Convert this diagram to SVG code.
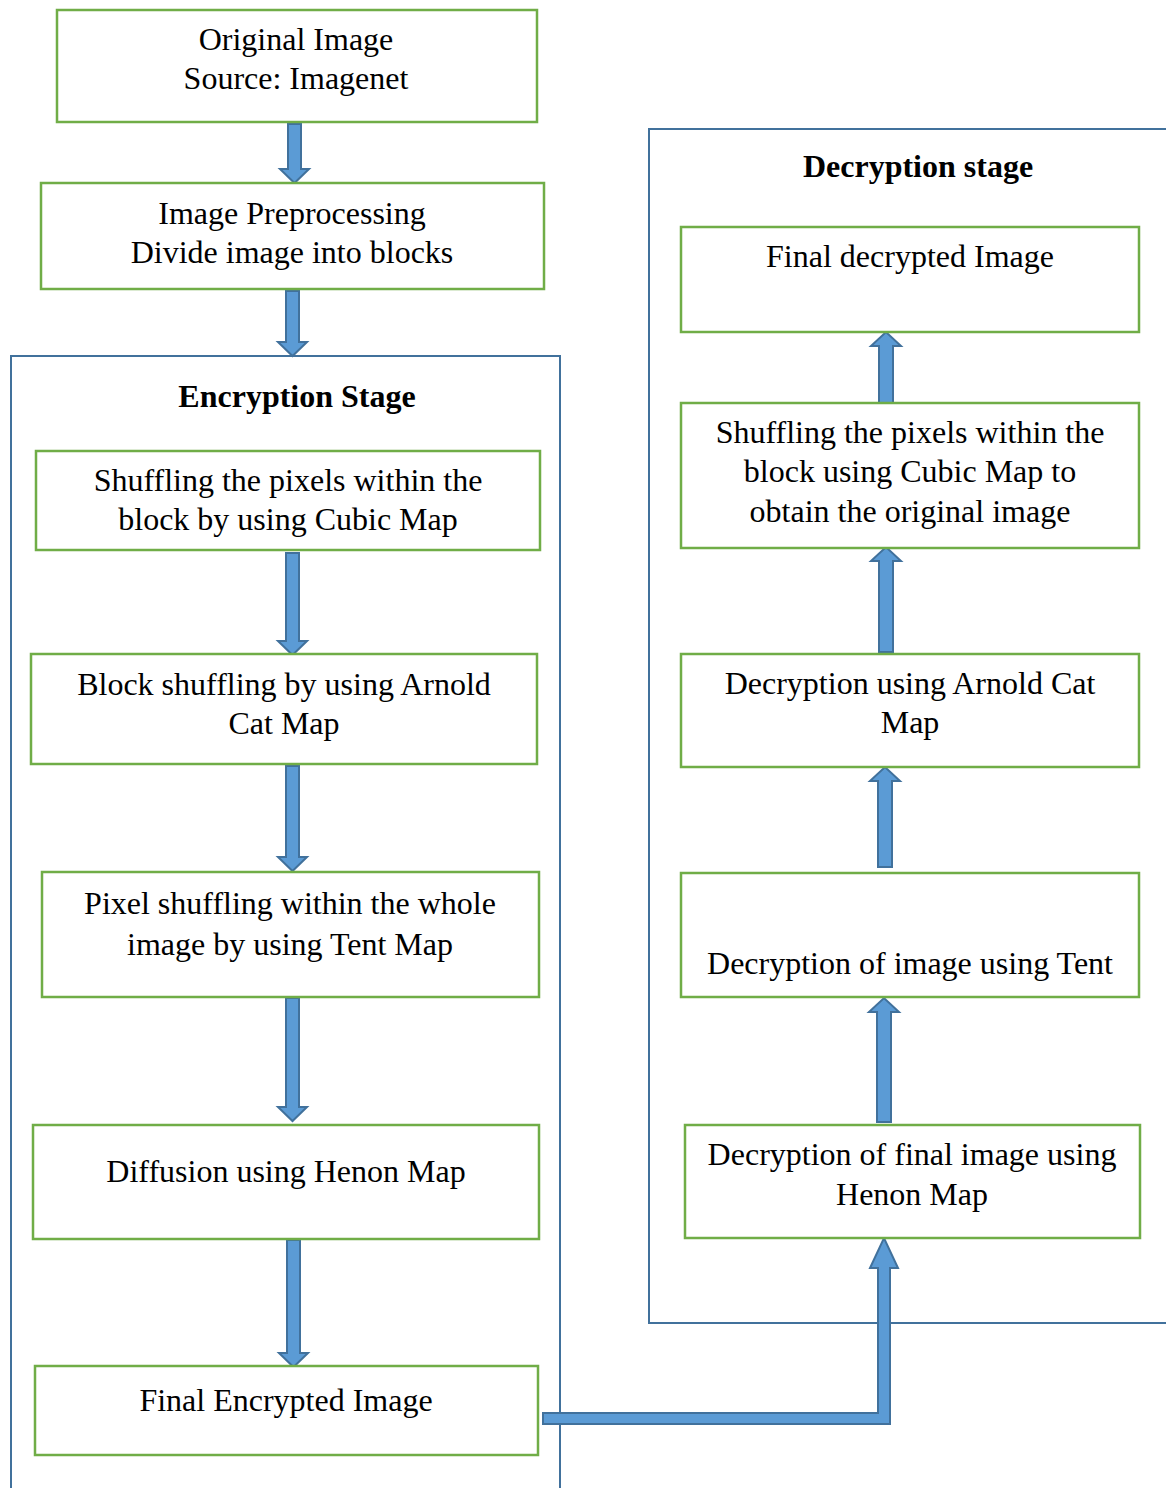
<svg xmlns="http://www.w3.org/2000/svg" width="1166" height="1488" viewBox="0 0 1166 1488">
  <style>
    .node { fill: #ffffff; stroke: #70AD47; stroke-width: 2.5; }
    .stage { fill: none; stroke: #41719C; stroke-width: 2; }
    .arrow { fill: #5B9BD5; stroke: #41719C; stroke-width: 2; stroke-linejoin: miter; }
    text { font-family: "Liberation Serif", "Times New Roman", serif; font-size: 32px; fill: #000000; text-anchor: middle; }
    .title { font-weight: bold; }
  </style>
  <rect width="1166" height="1488" fill="#ffffff"/>

  <!-- stage containers -->
  <g id="encryption-stage">
    <rect class="stage" x="11" y="356" width="549" height="1160"/>
    <text class="title" x="297" y="407">Encryption Stage</text>
  </g>
  <g id="decryption-stage">
    <rect class="stage" x="649" y="129" width="540" height="1194"/>
    <text class="title" x="918" y="177">Decryption stage</text>
  </g>

  <!-- connectors -->
  <g id="connectors">
    <polygon class="arrow" points="288,124 301,124 301,169 309,169 294.5,183 280,169 288,169"/>
    <polygon class="arrow" points="286,291 299,291 299,342 307,342 292.5,356 278,342 286,342"/>
    <polygon class="arrow" points="286,553 299,553 299,641 307,641 292.5,655 278,641 286,641"/>
    <polygon class="arrow" points="286,766 299,766 299,857 307,857 292.5,871 278,857 286,857"/>
    <polygon class="arrow" points="286,998 299,998 299,1107 307,1107 292.5,1121 278,1107 286,1107"/>
    <polygon class="arrow" points="287,1240 300,1240 300,1353 308,1353 293.5,1367 279,1353 287,1353"/>

    <polygon class="arrow" points="879,404 893,404 893,346 901,346 886,332 871,346 879,346"/>
    <polygon class="arrow" points="879,652 893,652 893,561 901,561 886,547 871,561 879,561"/>
    <polygon class="arrow" points="878,867 892,867 892,781 900,781 885,767 870,781 878,781"/>
    <polygon class="arrow" points="877,1122 891,1122 891,1012 899,1012 884,998 869,1012 877,1012"/>

    <polygon class="arrow" points="543,1413 878,1413 878,1268 870,1268 884,1238 898,1268 890,1268 890,1424 543,1424"/>
  </g>

  <!-- encryption side -->
  <g id="original-image">
    <rect class="node" x="57" y="10" width="480" height="112"/>
    <text x="296" y="50">Original Image</text>
    <text x="296" y="89">Source: Imagenet</text>
  </g>
  <g id="preprocessing">
    <rect class="node" x="41" y="183" width="503" height="106"/>
    <text x="292" y="224">Image Preprocessing</text>
    <text x="292" y="263">Divide image into blocks</text>
  </g>
  <g id="cubic-shuffle">
    <rect class="node" x="36" y="451" width="504" height="99"/>
    <text x="288" y="491">Shuffling the pixels within the</text>
    <text x="288" y="530">block by using Cubic Map</text>
  </g>
  <g id="arnold-shuffle">
    <rect class="node" x="31" y="654" width="506" height="110"/>
    <text x="284" y="695">Block shuffling by using Arnold</text>
    <text x="284" y="734">Cat Map</text>
  </g>
  <g id="tent-shuffle">
    <rect class="node" x="42" y="872" width="497" height="125"/>
    <text x="290" y="914">Pixel shuffling within the whole</text>
    <text x="290" y="955">image by using Tent Map</text>
  </g>
  <g id="henon-diffusion">
    <rect class="node" x="33" y="1125" width="506" height="114"/>
    <text x="286" y="1182">Diffusion using Henon Map</text>
  </g>
  <g id="encrypted-image">
    <rect class="node" x="35" y="1366" width="503" height="89"/>
    <text x="286" y="1411">Final Encrypted Image</text>
  </g>

  <!-- decryption side -->
  <g id="decrypted-image">
    <rect class="node" x="681" y="227" width="458" height="105"/>
    <text x="910" y="267">Final decrypted Image</text>
  </g>
  <g id="cubic-inverse">
    <rect class="node" x="681" y="403" width="458" height="145"/>
    <text x="910" y="443">Shuffling the pixels within the</text>
    <text x="910" y="482">block using Cubic Map to</text>
    <text x="910" y="522">obtain the original image</text>
  </g>
  <g id="arnold-inverse">
    <rect class="node" x="681" y="654" width="458" height="113"/>
    <text x="910" y="694">Decryption using Arnold Cat</text>
    <text x="910" y="733">Map</text>
  </g>
  <g id="tent-inverse">
    <rect class="node" x="681" y="873" width="458" height="124"/>
    <text x="910" y="974">Decryption of image using Tent</text>
  </g>
  <g id="henon-inverse">
    <rect class="node" x="685" y="1125" width="455" height="113"/>
    <text x="912" y="1165">Decryption of final image using</text>
    <text x="912" y="1205">Henon Map</text>
  </g>
</svg>
